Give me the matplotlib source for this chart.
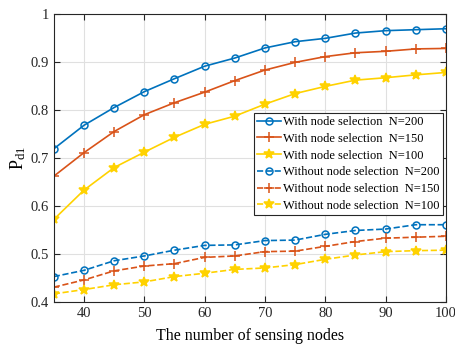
import matplotlib.pyplot as plt

nodes = [35, 40, 45, 50, 55, 60, 65, 70, 75, 80, 85, 90, 95, 100]

with_200 = [0.719, 0.768, 0.805, 0.838, 0.865, 0.891, 0.908, 0.929, 0.942, 0.949, 0.960, 0.965, 0.967, 0.969]
with_150 = [0.662, 0.711, 0.755, 0.790, 0.815, 0.837, 0.861, 0.883, 0.899, 0.911, 0.919, 0.922, 0.927, 0.928]
with_100 = [0.572, 0.633, 0.680, 0.712, 0.743, 0.770, 0.787, 0.812, 0.834, 0.849, 0.862, 0.867, 0.873, 0.878]
without_200 = [0.453, 0.466, 0.486, 0.496, 0.508, 0.518, 0.519, 0.528, 0.529, 0.541, 0.549, 0.552, 0.561, 0.561]
without_150 = [0.431, 0.446, 0.465, 0.475, 0.480, 0.493, 0.496, 0.505, 0.506, 0.516, 0.526, 0.533, 0.535, 0.537]
without_100 = [0.417, 0.426, 0.436, 0.442, 0.453, 0.460, 0.468, 0.471, 0.478, 0.489, 0.498, 0.505, 0.507, 0.508]

labels = [
    'With node selection  N=200',
    'With node selection  N=150',
    'With node selection  N=100',
    'Without node selection  N=200',
    'Without node selection  N=150',
    'Without node selection  N=100',
]

plt.rcParams['font.family'] = ['Liberation Serif', 'DejaVu Serif']
plt.rcParams['mathtext.fontset'] = 'custom'
plt.rcParams['mathtext.rm'] = 'Liberation Serif'
plt.rcParams['mathtext.it'] = 'Liberation Serif'

blue, red, yellow = '#0072BD', '#D95319', '#FFD200'

fig = plt.figure(figsize=(4.56, 3.46), dpi=100)
ax = fig.add_axes([0.118, 0.127, 0.860, 0.833])

series = [
    (with_200, blue, '-', 'o', dict(markerfacecolor='none', markersize=5)),
    (with_150, red, '-', '+', dict(markersize=6.5)),
    (with_100, yellow, '-', '*', dict(markersize=7.5)),
    (without_200, blue, '--', 'o', dict(markerfacecolor='none', markersize=5)),
    (without_150, red, '--', '+', dict(markersize=6.5)),
    (without_100, yellow, '--', '*', dict(markersize=7.5)),
]
for (vals, c, ls, m, kw), lab in zip(series, labels):
    ax.plot(nodes, vals, color=c, linestyle=ls, marker=m, linewidth=1.2,
            markeredgewidth=1.1, label=lab, **kw)

ax.set_xlim(35, 100)
ax.set_ylim(0.4, 1.0)
ax.set_xticks([40, 50, 60, 70, 80, 90, 100])
ax.set_yticks([0.4, 0.5, 0.6, 0.7, 0.8, 0.9, 1.0])
ax.set_yticklabels(['0.4', '0.5', '0.6', '0.7', '0.8', '0.9', '1'])
ax.grid(True, color='#e0e0e0', linewidth=0.8)
ax.set_axisbelow(True)
ax.tick_params(direction='in', top=True, right=True, labelsize=10.5, length=4, colors='#262626')
for s in ax.spines.values():
    s.set_color('#262626')
    s.set_linewidth(0.8)

ax.set_xlabel('The number of sensing nodes', fontsize=11.5, labelpad=6)
ax.set_ylabel(r'$\mathrm{P}_{\mathrm{d1}}$', fontsize=13, labelpad=2)

leg = ax.legend(loc='upper right', bbox_to_anchor=(0.992, 0.656), fontsize=9,
                handlelength=1.9, handletextpad=0.2, labelspacing=0.38,
                borderpad=0.25, borderaxespad=0, fancybox=False, framealpha=1,
                edgecolor='#262626')
leg.get_frame().set_linewidth(0.8)

fig.savefig('out.png', dpi=100)
